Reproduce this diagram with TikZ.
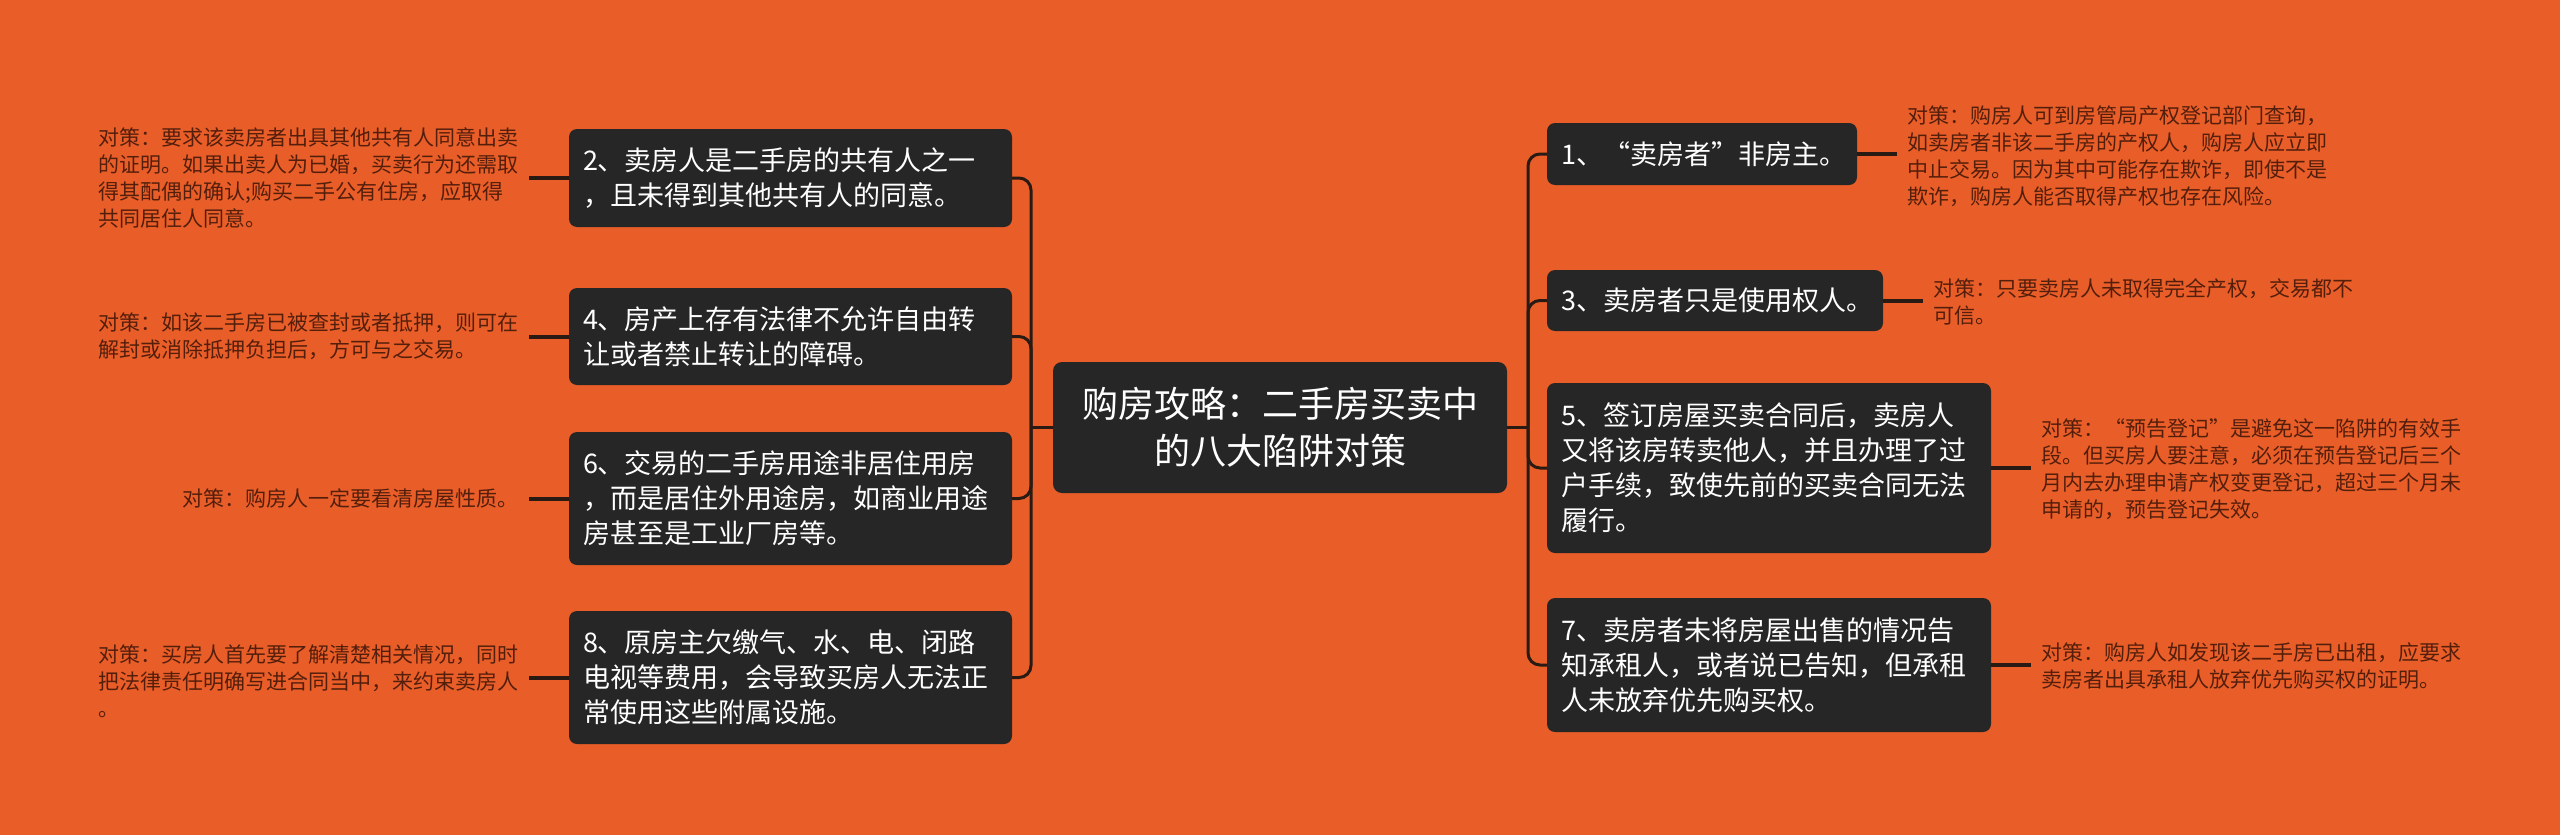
\documentclass[tikz,border=0pt]{standalone}
\usepackage{fontspec}
\newfontfamily\cjk{Noto Sans CJK SC}
\definecolor{bgorange}{RGB}{233,94,40}
\definecolor{nodebg}{RGB}{38,38,38}
\definecolor{linecol}{RGB}{42,26,20}
\definecolor{notecol}{RGB}{84,30,12}
\tikzset{
  mnode/.style={fill=nodebg, rounded corners=8pt, text=white, align=left,
    inner xsep=14pt, inner ysep=0pt, font=\cjk\fontsize{27pt}{35pt}\selectfont},
  cnode/.style={fill=nodebg, rounded corners=9pt, text=white, align=center,
    inner xsep=14pt, inner ysep=0pt, font=\cjk\fontsize{36pt}{47pt}\selectfont},
  note/.style={text=notecol, align=left, inner xsep=10pt, inner ysep=0pt,
    font=\cjk\fontsize{21pt}{27pt}\selectfont},
  trunk/.style={draw=linecol, line width=3pt, rounded corners=12pt},
  stub/.style={draw=linecol, line width=4pt}
}
\begin{document}
\begin{tikzpicture}[x=1pt,y=-1pt]
\useasboundingbox (0,0) rectangle (2560,835);
\fill[bgorange] (0,0) rectangle (2560,835);

% center
\node[cnode, text width=426pt, minimum height=131pt] (c) at (1280,427.5)
  {购房攻略：二手房买卖中\\的八大陷阱对策};

% left nodes
\node[mnode, text width=415pt, minimum height=98pt] (n2) at (790.5,178)
  {2、卖房人是二手房的共有人之一\\，且未得到其他共有人的同意。};
\node[mnode, text width=415pt, minimum height=97pt] (n4) at (790.5,336.5)
  {4、房产上存有法律不允许自由转\\让或者禁止转让的障碍。};
\node[mnode, text width=415pt, minimum height=133pt] (n6) at (790.5,498.5)
  {6、交易的二手房用途非居住用房\\，而是居住外用途房，如商业用途\\房甚至是工业厂房等。};
\node[mnode, text width=415pt, minimum height=133pt] (n8) at (790.5,677.5)
  {8、原房主欠缴气、水、电、闭路\\电视等费用，会导致买房人无法正\\常使用这些附属设施。};

% right nodes
\node[mnode, text width=282pt, minimum height=62pt] (n1) at (1702,154)
  {1、“卖房者”非房主。};
\node[mnode, text width=308pt, minimum height=61pt] (n3) at (1715,300.5)
  {3、卖房者只是使用权人。};
\node[mnode, text width=416pt, minimum height=170pt] (n5) at (1769,468)
  {5、签订房屋买卖合同后，卖房人\\又将该房转卖他人，并且办理了过\\户手续，致使先前的买卖合同无法\\履行。};
\node[mnode, text width=416pt, minimum height=134pt] (n7) at (1769,665)
  {7、卖房者未将房屋出售的情况告\\知承租人，或者说已告知，但承租\\人未放弃优先购买权。};

% left notes
\node[note, anchor=east] (c2) at (529,178)
  {对策：要求该卖房者出具其他共有人同意出卖\\的证明。如果出卖人为已婚，买卖行为还需取\\得其配偶的确认;购买二手公有住房，应取得\\共同居住人同意。};
\node[note, anchor=east] (c4) at (529,336.5)
  {对策：如该二手房已被查封或者抵押，则可在\\解封或消除抵押负担后，方可与之交易。};
\node[note, anchor=east] (c6) at (529,498.5)
  {对策：购房人一定要看清房屋性质。};
\node[note, anchor=east] (c8) at (529,681)
  {对策：买房人首先要了解清楚相关情况，同时\\把法律责任明确写进合同当中，来约束卖房人\\。};

% right notes
\node[note, anchor=west] (c1) at (1897,156)
  {对策：购房人可到房管局产权登记部门查询，\\如卖房者非该二手房的产权人，购房人应立即\\中止交易。因为其中可能存在欺诈，即使不是\\欺诈，购房人能否取得产权也存在风险。};
\node[note, anchor=west] (c3) at (1923,301.5)
  {对策：只要卖房人未取得完全产权，交易都不\\可信。};
\node[note, anchor=west] (c5) at (2031,469)
  {对策：“预告登记”是避免这一陷阱的有效手\\段。但买房人要注意，必须在预告登记后三个\\月内去办理申请产权变更登记，超过三个月未\\申请的，预告登记失效。};
\node[note, anchor=west] (c7) at (2031,666)
  {对策：购房人如发现该二手房已出租，应要求\\卖房者出具承租人放弃优先购买权的证明。};

% trunks
\coordinate (lt) at (1031,427.5);
\coordinate (rt) at (1528,427.5);
\draw[trunk] (c.west) -- (lt);
\draw[trunk] (c.east) -- (rt);
\foreach \n in {n2,n4,n6,n8} { \draw[trunk] (lt) |- (\n.east); }
\foreach \n in {n1,n3,n5,n7} { \draw[trunk] (rt) |- (\n.west); }

% stubs
\foreach \n/\m in {n2/c2,n4/c4,n6/c6,n8/c8} { \draw[stub] (\n.west) -- (\n.west -| \m.east); }
\foreach \n/\m in {n1/c1,n3/c3,n5/c5,n7/c7} { \draw[stub] (\n.east) -- (\n.east -| \m.west); }
\end{tikzpicture}
\end{document}
